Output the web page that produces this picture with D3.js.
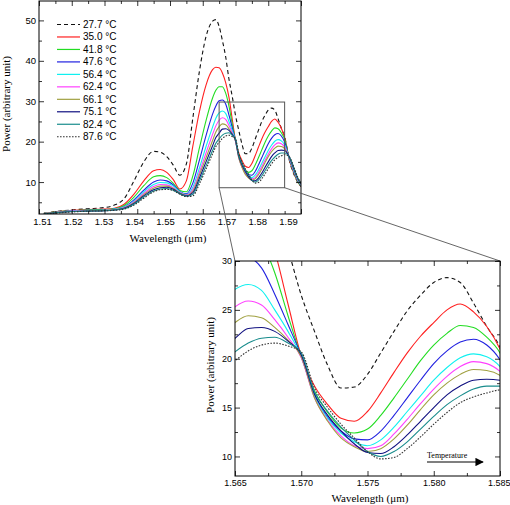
<!DOCTYPE html>
<html><head><meta charset="utf-8">
<script src="https://cdn.jsdelivr.net/npm/d3@7"></script>
<style>body{margin:0;background:#fff}</style>
</head><body><svg id="c" width="510" height="505"></svg>
<script>
// ---------------- data ----------------
const wavelengths = [1.5115,1.515,1.52,1.525,1.53,1.533,1.536,1.539,1.542,1.545,1.547,1.549,1.551,1.553,1.555,1.557,1.559,1.561,1.563,1.564,1.565,1.566,1.567,1.568,1.569,1.570,1.571,1.572,1.573,1.574,1.575,1.576,1.577,1.578,1.579,1.580,1.581,1.582,1.583,1.584,1.585,1.5865,1.588,1.589,1.590];
const temperatures = ["27.7 °C","35.0 °C","41.8 °C","47.6 °C","56.4 °C","62.4 °C","66.1 °C","75.1 °C","82.4 °C","87.6 °C"];
const p277 = [2.3,2.7,3.1,3.4,3.7,4.3,5.9,10.3,15.0,17.6,17.4,16.3,14.2,11.7,14.5,26.0,37.5,46.0,49.8,50.2,48.5,45.0,41.0,35.5,31.2,26.5,22.8,19.3,17.0,17.1,18.4,20.6,22.8,24.9,26.5,27.8,28.3,27.8,25.7,23.3,21.2,15.2,11.6,9.9,8.9];
const p350 = [2.3,2.6,3.0,3.2,3.3,3.5,4.5,7.0,10.3,12.8,13.1,12.4,10.6,8.3,10.3,19.0,27.5,34.0,37.8,38.4,38.3,37.0,34.6,31.0,25.6,20.3,17.2,15.3,13.9,13.6,14.6,16.5,18.6,20.6,22.3,23.7,25.0,25.6,24.8,23.3,21.0,15.4,11.8,10.0,9.0];
const p418 = [2.3,2.6,2.9,3.1,3.2,3.4,4.2,6.3,9.1,11.3,11.6,11.1,9.7,7.9,7.6,11.6,18.5,25.2,30.8,32.7,33.6,33.6,32.0,28.8,24.4,20.2,16.7,14.5,12.9,12.4,12.8,14.2,16.0,17.9,19.8,21.4,22.6,23.4,23.2,22.2,20.6,15.6,12.0,10.1,9.1];
const p476 = [2.2,2.5,2.8,3.0,3.1,3.3,3.9,5.6,8.0,10.0,10.5,10.3,9.3,7.7,7.1,9.8,15.5,21.5,26.8,28.8,30.1,30.3,29.3,26.6,23.5,20.3,16.3,14.0,12.6,11.8,11.7,12.6,14.2,16.0,17.8,19.5,20.8,21.7,22.0,21.4,19.9,15.7,12.2,10.3,9.2];
const p564 = [2.2,2.5,2.8,3.0,3.1,3.3,3.8,5.3,7.6,9.4,9.9,9.8,9.0,7.6,6.9,8.8,13.5,18.8,23.6,25.8,27.1,27.6,27.0,25.0,22.8,20.2,16.2,13.9,12.4,11.5,11.1,11.7,13.0,14.6,16.2,17.8,19.1,20.1,20.5,20.2,19.2,15.8,12.4,10.5,9.3];
const p624 = [2.2,2.5,2.8,2.9,3.0,3.2,3.7,5.1,7.2,8.9,9.4,9.3,8.6,7.4,6.8,8.2,12.5,17.2,21.8,23.9,25.3,25.9,25.5,24.0,22.2,20.1,16.0,13.7,12.1,11.1,10.8,11.1,12.3,13.8,15.4,16.9,18.2,19.2,19.7,19.5,18.7,15.9,12.6,10.6,9.4];
const p661 = [2.2,2.5,2.7,2.9,3.0,3.2,3.6,4.9,6.9,8.5,9.0,9.0,8.4,7.3,6.7,7.8,11.8,16.0,20.3,22.4,23.7,24.4,24.2,23.2,21.9,20.2,16.0,13.6,11.9,11.0,10.5,10.8,11.8,13.2,14.8,16.3,17.5,18.4,18.9,18.8,18.3,16.0,12.7,10.7,9.5];
const p751 = [2.1,2.4,2.7,2.8,2.9,3.1,3.5,4.7,6.6,8.1,8.6,8.7,8.2,7.2,6.6,7.4,11.0,15.0,19.0,21.0,22.1,23.1,23.2,22.8,21.8,20.4,16.4,14.2,12.6,11.3,10.4,10.3,11.0,12.2,13.6,15.0,16.3,17.2,17.8,17.9,17.8,16.1,12.9,10.9,9.6];
const p824 = [2.1,2.4,2.7,2.8,2.9,3.1,3.4,4.5,6.3,7.8,8.3,8.4,8.0,7.1,6.5,7.0,10.3,14.0,17.8,19.6,20.7,21.6,22.1,22.2,21.6,20.6,16.6,14.6,13.0,11.7,10.5,10.0,10.5,11.5,12.8,14.1,15.3,16.2,16.9,17.2,17.2,16.1,13.1,11.0,9.7];
const p876 = [2.1,2.3,2.6,2.8,2.9,3.0,3.3,4.3,6.0,7.6,8.1,8.2,7.9,7.0,6.4,6.6,9.6,13.2,17.0,18.8,19.8,20.8,21.4,21.6,21.3,20.7,17.0,15.0,13.3,11.9,10.5,9.75,9.9,10.8,12.0,13.3,14.5,15.5,16.1,16.5,16.8,16.2,13.3,11.2,9.8];
const seriesValues = [p277,p350,p418,p476,p564,p624,p661,p751,p824,p876];
const mainXTicks = [1.51,1.52,1.53,1.54,1.55,1.56,1.57,1.58,1.59];
const mainYTicks = [10,20,30,40,50];
const insetXTicks = [1.565,1.570,1.575,1.580,1.585];
const insetYTicks = [10,15,20,25,30];

// ---------------- styles ----------------
const colors = ["#111","#ff2020","#22dd22","#2020e0","#10f0f0","#ff40ff","#a0a040","#101080","#188c8c","#333"];
const dashes = ["4,3",null,null,null,null,null,null,null,null,"1.6,1.4"];
const sansFont = "'Liberation Sans', Arial, sans-serif";
const serifFont = "'Liberation Serif', 'Times New Roman', serif";

const svg = d3.select("#c");
const series = seriesValues.map((vals,i)=>({name:temperatures[i], color:colors[i], dash:dashes[i],
  pts: wavelengths.map((w,j)=>[w, vals[j]])}));

function drawPanel(opts){
  const {x, y, id, xMajor, xMinor, yMajor, yMinor, xFmt, yFmt, sw, fs} = opts;
  const [x0,x1] = x.range(), [y0,y1] = y.range(); // y0 bottom, y1 top
  const g = svg.append("g");
  g.append("clipPath").attr("id", id).append("rect")
    .attr("x", x0).attr("y", y1).attr("width", x1-x0).attr("height", y0-y1);
  const line = d3.line().x(d=>x(d[0])).y(d=>y(d[1])).curve(d3.curveMonotoneX);
  const lg = g.append("g").attr("clip-path", `url(#${id})`);
  series.forEach(s=>{
    lg.append("path").attr("d", line(s.pts)).attr("fill","none")
      .attr("stroke", s.color).attr("stroke-width", sw)
      .attr("stroke-dasharray", s.dash);
  });
  const styleAxis = (sel)=>{
    sel.select(".domain").remove();
    sel.selectAll("line").attr("stroke","#000").attr("stroke-width",0.8);
    sel.selectAll("text").attr("font-family", sansFont).attr("font-size", fs).attr("fill","#000");
  };
  const bottom = g.append("g").attr("transform",`translate(0,${y0})`)
    .call(d3.axisBottom(x).tickValues(xMajor).tickSize(-5).tickPadding(4).tickFormat(xFmt)).call(styleAxis);
  g.append("g").attr("transform",`translate(0,${y0})`)
    .call(d3.axisBottom(x).tickValues(xMinor).tickSize(-3).tickFormat("")).call(styleAxis);
  g.append("g").attr("transform",`translate(0,${y1})`)
    .call(d3.axisTop(x).tickValues(xMajor).tickSize(-5).tickFormat("")).call(styleAxis);
  g.append("g").attr("transform",`translate(0,${y1})`)
    .call(d3.axisTop(x).tickValues(xMinor).tickSize(-3).tickFormat("")).call(styleAxis);
  g.append("g").attr("transform",`translate(${x0},0)`)
    .call(d3.axisLeft(y).tickValues(yMajor).tickSize(-5).tickPadding(3).tickFormat(yFmt)).call(styleAxis);
  g.append("g").attr("transform",`translate(${x0},0)`)
    .call(d3.axisLeft(y).tickValues(yMinor).tickSize(-3).tickFormat("")).call(styleAxis);
  g.append("g").attr("transform",`translate(${x1},0)`)
    .call(d3.axisRight(y).tickValues(yMajor).tickSize(-5).tickFormat("")).call(styleAxis);
  g.append("g").attr("transform",`translate(${x1},0)`)
    .call(d3.axisRight(y).tickValues(yMinor).tickSize(-3).tickFormat("")).call(styleAxis);
  g.append("rect").attr("x",x0).attr("y",y1).attr("width",x1-x0).attr("height",y0-y1)
    .attr("fill","none").attr("stroke","#000").attr("stroke-width",1);
  return bottom;
}

// ---------------- main chart ----------------
const mx = d3.scaleLinear().domain([1.51,1.59]).range([39,301]);
const my = d3.scaleLinear().domain([2.1,54.8]).range([214,1]);
// tick labels in the reference sit on a slightly narrower spacing than the tick marks
const mxLabel = d3.scaleLinear().domain([1.51,1.59]).range([42,288]);
const mainMinorX = d3.range(0,17).map(i=>+(1.51+i*0.005).toFixed(3)).filter(v=>!mainXTicks.includes(v));
const mainBottom = drawPanel({x:mx, y:my, id:"clipMain", xMajor:mainXTicks, xMinor:mainMinorX,
  yMajor:mainYTicks, yMinor:[5,15,25,35,45], xFmt:d3.format(".2f"), yFmt:d3.format("d"), sw:1.1, fs:9.5});
mainBottom.selectAll(".tick text").attr("x", d=>mxLabel(d)-mx(d));

svg.append("text").attr("x",168).attr("y",242).attr("text-anchor","middle")
  .attr("font-family",serifFont).attr("font-size",11).text("Wavelength (μm)");
svg.append("text").attr("transform","translate(10,104) rotate(-90)").attr("text-anchor","middle")
  .attr("font-family",serifFont).attr("font-size",11).text("Power (arbitrary unit)");

// legend
const legend = svg.append("g");
series.forEach((s,i)=>{
  const yy = 24.5 + i*12.47;
  legend.append("line").attr("x1",57).attr("x2",80).attr("y1",yy).attr("y2",yy)
    .attr("stroke",s.color).attr("stroke-width",1.2).attr("stroke-dasharray",s.dash);
  legend.append("text").attr("x",83).attr("y",yy+3.5).attr("font-family",sansFont)
    .attr("font-size",10).text(s.name);
});

// zoom box + connectors
const zoomX = [1.565,1.585], zoomY = [8.6,29.8];
const ix = d3.scaleLinear().domain([1.565,1.585]).range([235,500]);
const iy = d3.scaleLinear().domain([8,30]).range([476,261]);
svg.append("rect").attr("x",mx(zoomX[0])).attr("y",my(zoomY[1]))
  .attr("width",mx(zoomX[1])-mx(zoomX[0])).attr("height",my(zoomY[0])-my(zoomY[1]))
  .attr("fill","none").attr("stroke","#555").attr("stroke-width",1);
svg.append("line").attr("x1",mx(zoomX[0])).attr("y1",my(zoomY[0])).attr("x2",ix(1.565)).attr("y2",iy(30))
  .attr("stroke","#555").attr("stroke-width",0.9);
svg.append("line").attr("x1",mx(zoomX[1])).attr("y1",my(zoomY[0])).attr("x2",ix(1.585)).attr("y2",iy(30))
  .attr("stroke","#555").attr("stroke-width",0.9);

// ---------------- inset ----------------
const insetBottom = drawPanel({x:ix, y:iy, id:"clipInset", xMajor:insetXTicks, xMinor:[1.5675,1.5725,1.5775,1.5825],
  yMajor:insetYTicks, yMinor:[12.5,17.5,22.5,27.5], xFmt:d3.format(".3f"), yFmt:d3.format("d"), sw:1.1, fs:9});
insetBottom.selectAll(".tick text").filter(d=>d===1.585).attr("text-anchor","end").attr("x",10);
svg.append("text").attr("x",370).attr("y",502).attr("text-anchor","middle")
  .attr("font-family",serifFont).attr("font-size",11).text("Wavelength (μm)");
svg.append("text").attr("transform","translate(214,365) rotate(-90)").attr("text-anchor","middle")
  .attr("font-family",serifFont).attr("font-size",11).text("Power (arbitrary unit)");

// temperature arrow
svg.append("defs").append("marker").attr("id","arr").attr("viewBox","0 0 10 10")
  .attr("refX",9).attr("refY",5).attr("markerWidth",7).attr("markerHeight",7).attr("orient","auto")
  .append("path").attr("d","M0,0 L10,5 L0,10 z").attr("fill","#000");
svg.append("text").attr("x",427).attr("y",458).attr("font-family",serifFont).attr("font-size",8).text("Temperature");
svg.append("line").attr("x1",427).attr("x2",483).attr("y1",462).attr("y2",462)
  .attr("stroke","#000").attr("stroke-width",1.2).attr("marker-end","url(#arr)");
</script></body></html>
